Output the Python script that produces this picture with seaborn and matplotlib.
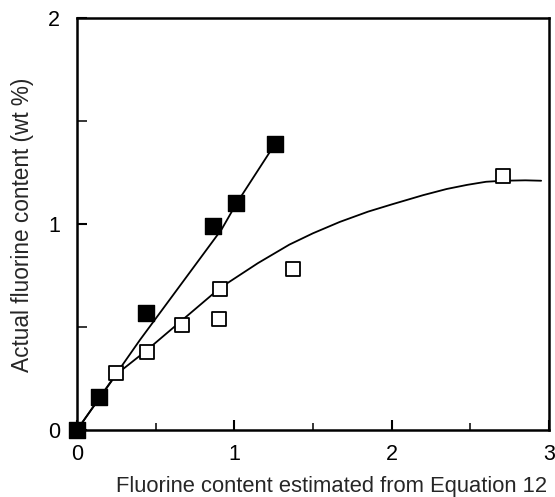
import numpy as np
import pandas as pd
import seaborn as sns
import matplotlib.pyplot as plt
from matplotlib.ticker import MultipleLocator

# filled squares (first series)
filled_x = [0.0, 0.14, 0.44, 0.865, 1.01, 1.26]
filled_y = [0.0, 0.16, 0.57, 0.99, 1.10, 1.39]

# open squares (second series)
open_x = [0.25, 0.445, 0.67, 0.91, 0.90, 1.37, 2.71]
open_y = [0.275, 0.38, 0.51, 0.685, 0.54, 0.78, 1.235]

# fitted curves, points
filled_curve_x = [0.0, 0.40, 0.92, 1.01, 1.26]
filled_curve_y = [0.0, 0.437, 0.975, 1.095, 1.39]

open_curve_x = [0.0, 0.25, 0.44, 0.91, 1.0, 1.15, 1.35, 1.5, 1.67, 1.85, 2.0, 2.2, 2.35, 2.48, 2.6, 2.71, 2.85, 2.95]
open_curve_y = [0.0, 0.27, 0.385, 0.69, 0.735, 0.81, 0.90, 0.955, 1.01, 1.06, 1.095, 1.14, 1.17, 1.19, 1.205, 1.21, 1.212, 1.21]

x_ticks = [0, 1, 2, 3]
y_ticks = [0, 1, 2]

sns.set_style("ticks")
plt.rcParams['font.family'] = ['Liberation Sans', 'DejaVu Sans']

fig = plt.figure(figsize=(5.55, 4.97), dpi=100)
ax = fig.add_axes([0.1387, 0.1348, 0.8505, 0.829])

sns.lineplot(x=filled_curve_x, y=filled_curve_y, sort=False, color='black', lw=1.3, ax=ax)
sns.lineplot(x=open_curve_x, y=open_curve_y, sort=False, color='black', lw=1.3, ax=ax)

sns.scatterplot(x=open_x, y=open_y, marker='s', s=115, facecolor='white',
                edgecolor='black', linewidth=1.3, ax=ax, zorder=3, clip_on=False)
sns.scatterplot(x=filled_x, y=filled_y, marker='s', s=120, color='black',
                edgecolor='black', linewidth=1.0, ax=ax, zorder=4, clip_on=False)

ax.set_xlim(0, 3)
ax.set_ylim(0, 2)
ax.set_xticks(x_ticks)
ax.set_yticks(y_ticks)
ax.xaxis.set_minor_locator(MultipleLocator(0.5))
ax.yaxis.set_minor_locator(MultipleLocator(0.5))

for side in ['left', 'bottom', 'top', 'right']:
    ax.spines[side].set_visible(True)
    ax.spines[side].set_linewidth(1.8)
    ax.spines[side].set_color('black')

ax.tick_params(axis='both', which='major', direction='in', length=7, width=1.5,
               labelsize=15.5, color='black', labelcolor='black')
ax.tick_params(axis='x', which='major', pad=10)
ax.tick_params(axis='y', which='major', pad=12)
ax.tick_params(axis='x', which='minor', direction='in', length=5, width=1.3)
ax.tick_params(axis='y', which='minor', direction='in', length=7, width=1.3)

ax.set_xlabel('Fluorine content estimated from Equation 12', fontsize=15.8)
ax.set_ylabel('Actual fluorine content (wt %)', fontsize=16.3)
ax.xaxis.set_label_coords(0.54, -0.112)
ax.yaxis.set_label_coords(-0.09, 0.498)

fig.savefig('out.png', dpi=100)
